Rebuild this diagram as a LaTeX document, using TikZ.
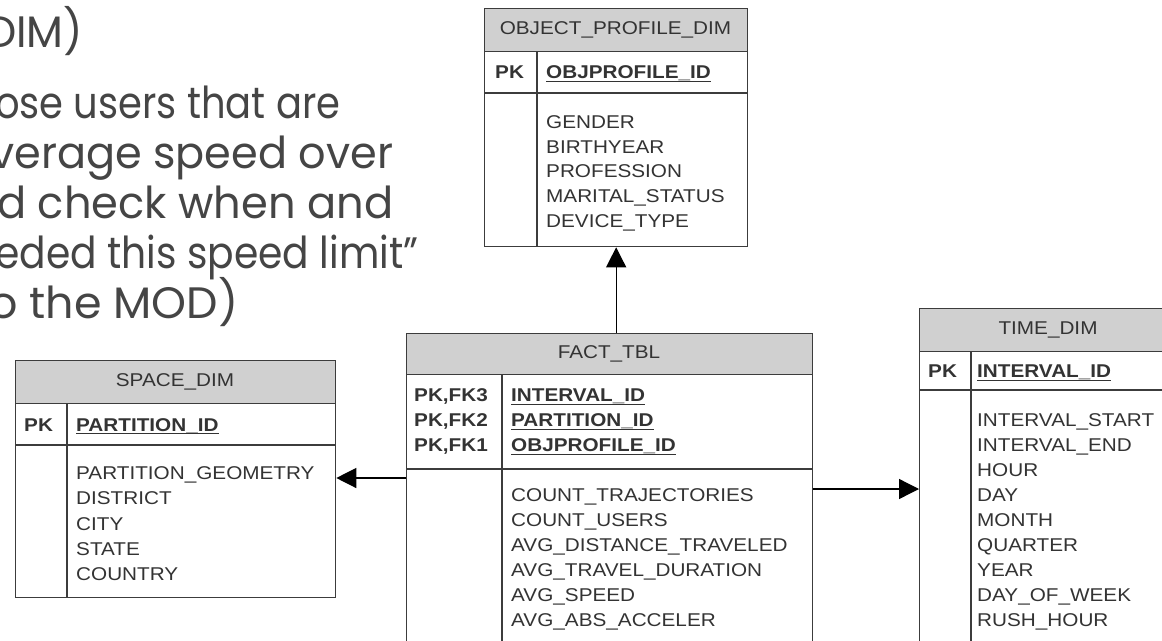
\documentclass[tikz,border=0pt]{standalone}
\usepackage{fontspec}
\usepackage{graphicx}
\setmainfont{Liberation Sans}[FakeStretch=1.12]
\newfontfamily\slidefont{Poppins}
\usetikzlibrary{arrows.meta}
\definecolor{ink}{HTML}{333333}
\definecolor{rulec}{HTML}{3C3C3C}
\definecolor{headfill}{HTML}{D0D0D0}
\definecolor{slideink}{HTML}{454545}
% underlined key column name
\newcommand\keyul[1]{{\setbox0\hbox{#1}\rlap{\raisebox{-3.2pt}{\rule{\wd0}{1.2pt}}}\box0}}
% a slide line set to a given width, height unchanged
\newcommand\fitline[2]{\resizebox{#1pt}{\height}{#2}}
\begin{document}
\begin{tikzpicture}[x=1pt,y=-1pt,
  tbl/.style={draw=rulec, line width=1.3pt, fill=white, inner sep=0pt, anchor=north west},
  head/.style={draw=rulec, line width=1.3pt, fill=headfill, inner sep=0pt, anchor=north west},
  sep/.style={draw=rulec, line width=1.3pt},
  cell/.style={font=\fontsize{18.5}{25}\selectfont, text=ink, inner sep=0pt, anchor=base west},
  keyc/.style={cell, font=\fontsize{18.5}{25}\selectfont\bfseries},
  title/.style={font=\fontsize{18.5}{25}\selectfont, text=ink, inner sep=0pt},
  fk/.style={-{Triangle[length=20pt,width=20pt]}, line width=1.3pt, draw=black},
  slide/.style={font=\slidefont\fontsize{44}{50}\selectfont, text=slideink, inner sep=0pt, anchor=base west}
]
\useasboundingbox (0,0) rectangle (1162,640);
\clip (0,0) rectangle (1162,640);

% ---- slide text ----
\node[slide] (s0) at (-14,47) {\fitline{97}{DIM)}};
\node[slide] (s1) at (-5,118) {\fitline{345}{ose users that are}};
\node[slide] (s2) at (-10,168) {\fitline{403}{verage speed over}};
\node[slide] (s3) at (-3,218) {\fitline{396}{d check when and}};
\node[slide] (s4) at (-5,268) {\fitline{423}{eded this speed limit”}};
\node[slide] (s5) at (-11,318) {\fitline{249}{o the MOD)}};

% ---- OBJECT_PROFILE_DIM ----
\node[tbl, minimum width=263, minimum height=238] (opd) at (484,8) {};
\node[head, minimum width=263, minimum height=43] (opdh) at (opd.north west) {};
\node[title] (opdt) at (615.5,29.5) {OBJECT\_PROFILE\_DIM};
\draw[sep] (484,93) -- (747,93);
\draw[sep] (537,51) -- (537,246);
\node[keyc] (opdpk) at (495,78.6) {PK};
\node[keyc] (opdid) at (546,78.6) {\keyul{OBJPROFILE\_ID}};
\foreach \t [count=\i from 0] in {GENDER,BIRTHYEAR,PROFESSION,MARITAL\_STATUS,DEVICE\_TYPE}
  \node[cell] (opda\i) at (546,128.6+24.6*\i) {\t};

% ---- SPACE_DIM ----
\node[tbl, minimum width=320, minimum height=237] (spd) at (15,360) {};
\node[head, minimum width=320, minimum height=43] (spdh) at (spd.north west) {};
\node[title] (spdt) at (175,381.5) {SPACE\_DIM};
\draw[sep] (15,445) -- (335,445);
\draw[sep] (67,403) -- (67,597);
\node[keyc] (spdpk) at (24,431) {PK};
\node[keyc] (spdid) at (76,431) {\keyul{PARTITION\_ID}};
\foreach \t [count=\i from 0] in {PARTITION\_GEOMETRY,DISTRICT,CITY,STATE,COUNTRY}
  \node[cell] (spda\i) at (76,479.6+25.2*\i) {\t};

% ---- FACT_TBL ----
\node[tbl, minimum width=406, minimum height=330] (fact) at (406,333) {};
\node[head, minimum width=406, minimum height=41] (facth) at (fact.north west) {};
\node[title] (factt) at (609,353.5) {FACT\_TBL};
\draw[sep] (406,469) -- (812,469);
\draw[sep] (502,374) -- (502,663);
\foreach \k/\t [count=\i from 0] in {PK{,}FK3/INTERVAL\_ID,PK{,}FK2/PARTITION\_ID,PK{,}FK1/OBJPROFILE\_ID}{
  \node[keyc] (factk\i) at (414,401.6+25*\i) {\k};
  \node[keyc] (factn\i) at (511,401.6+25*\i) {\keyul{\t}};
}
\foreach \t [count=\i from 0] in {COUNT\_TRAJECTORIES,COUNT\_USERS,AVG\_DISTANCE\_TRAVELED,AVG\_TRAVEL\_DURATION,AVG\_SPEED,AVG\_ABS\_ACCELER}
  \node[cell] (facta\i) at (511,501.6+25*\i) {\t};

% ---- TIME_DIM ----
\node[tbl, minimum width=258, minimum height=360] (tim) at (919,308) {};
\node[head, minimum width=258, minimum height=43] (timh) at (tim.north west) {};
\node[title] (timt) at (1048,329.5) {TIME\_DIM};
\draw[sep] (919,390) -- (1177,390);
\draw[sep] (971,351) -- (971,668);
\node[keyc] (timpk) at (928,377.6) {PK};
\node[keyc] (timid) at (977,377.6) {\keyul{INTERVAL\_ID}};
\foreach \t [count=\i from 0] in {INTERVAL\_START,INTERVAL\_END,HOUR,DAY,MONTH,QUARTER,YEAR,DAY\_OF\_WEEK,RUSH\_HOUR}
  \node[cell] (tima\i) at (977,426.6+25*\i) {\t};

% ---- references from the fact table ----
\draw[fk] (fact.north -| opd.south) -- (opd.south);
\draw[fk] (fact.west |- 0,478) -- (spd.east |- 0,478);
\draw[fk] (fact.east |- 0,489) -- (tim.west |- 0,489);
\end{tikzpicture}
\end{document}
